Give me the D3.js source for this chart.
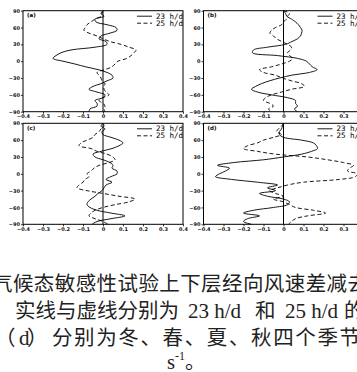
<!DOCTYPE html>
<html>
<head>
<meta charset="utf-8">
<script src="https://cdn.jsdelivr.net/npm/d3@7"></script>
<style>
  body { margin: 0; background: #fff; }
  svg { display: block; }
</style>
</head>
<body>
<div id="chart"></div>
<script>
// latitude levels (deg), shared by all curves
var lats = [90, 85, 80, 75, 70, 65, 60, 55, 50, 45, 40, 35, 30, 25, 20, 15, 10, 5, 0,
  -5, -10, -15, -20, -25, -30, -35, -40, -45, -50, -55, -60, -65, -70, -75, -80, -85, -90];

// (a) winter
var aSolid = [0, -0.01, 0.005, -0.04, -0.035, 0.02, 0.065, 0.07, 0.035, -0.01, -0.02, 0.015, 0.02, -0.04, -0.16, -0.21, -0.235, -0.25, -0.2,
  -0.14, -0.087, -0.025, 0.02, 0.045, 0.05, 0.02, -0.01, -0.05, -0.07, -0.03, 0.01, 0, -0.04, -0.03, -0.03, -0.065, -0.07];
var aDash = [0, -0.005, -0.01, -0.04, -0.06, -0.08, -0.09, -0.095, -0.07, -0.03, 0, 0.035, 0.09, 0.13, 0.165, 0.155, 0.14, 0.12, 0.075,
  0.06, 0.045, 0.01, -0.03, -0.02, -0.01, -0.005, 0.01, 0.005, 0.005, 0.015, 0.03, 0, -0.02, 0, 0.01, 0.005, 0.01];
// (b) spring
var bSolid = [0, 0.01, 0.017, 0.04, 0.06, 0.075, 0.085, 0.093, 0.09, 0.085, 0.07, 0.042, 0.01, -0.08, -0.15, -0.155, -0.03, 0.07, 0.115,
  0.13, 0.144, 0.168, 0.13, 0.04, -0.02, -0.07, -0.11, -0.14, -0.16, -0.13, -0.06, 0.02, 0.06, 0.06, 0.07, 0.055, 0.068];
var bDash = [0, 0.03, 0.02, 0.015, 0, -0.01, -0.04, -0.06, -0.068, -0.05, -0.035, -0.008, 0.02, 0.04, 0.035, 0.02, 0.03, 0.045, 0.03,
  -0.01, -0.06, -0.12, -0.1, -0.04, -0.005, 0.04, 0.09, 0.105, 0.04, -0.01, -0.06, -0.09, -0.1, -0.07, -0.05, -0.075, -0.06];
// (c) summer
var cSolid = [0, -0.01, 0.01, -0.005, 0, 0.04, 0.08, 0.1, 0.08, 0.045, -0.01, -0.05, -0.04, 0, 0.035, 0.05, 0.045, 0.07, 0.07,
  0.04, 0.015, 0.045, 0.015, 0.005, -0.005, -0.025, -0.04, -0.06, -0.075, -0.08, -0.065, -0.03, 0.04, 0.11, 0.04, -0.03, -0.055];
var cDash = [0, 0.005, -0.01, -0.02, -0.04, -0.05, -0.08, -0.11, -0.12, -0.06, -0.03, 0.02, 0.05, 0.06, 0.03, -0.02, -0.045, -0.06, -0.08,
  -0.07, -0.09, -0.1, -0.12, -0.13, -0.08, 0, 0.08, 0.16, 0.13, 0.06, 0, -0.04, -0.06, -0.07, -0.04, 0, 0.025];
// (d) autumn
var dSolid = [0, -0.005, -0.01, -0.02, -0.02, 0, 0.09, 0.15, 0.165, 0.17, 0.14, 0.09, 0, -0.1, -0.25, -0.33, -0.27, -0.29, -0.32,
  -0.34, -0.26, -0.13, -0.03, -0.08, -0.04, -0.12, -0.08, 0, 0.03, 0.02, -0.05, -0.15, -0.2, -0.12, -0.18, -0.2, -0.16];
var dDash = [0, -0.01, -0.025, -0.035, -0.01, -0.05, -0.1, -0.13, -0.18, -0.2, -0.13, -0.04, 0.12, 0.22, 0.3, 0.35, 0.33, 0.32, 0.37,
  0.36, 0.28, 0.1, 0.02, -0.03, -0.07, -0.04, 0, -0.05, 0, 0.03, 0.06, 0.15, 0.21, 0.12, 0.06, 0.04, 0.025];

var panelNames = ["(a)", "(b)", "(c)", "(d)"];
var legendNames = ["23 h/d", "25 h/d"];
var xTicks = [-0.4, -0.3, -0.2, -0.1, 0, 0.1, 0.2, 0.3, 0.4];
var yTicks = [90, 60, 30, 0, -30, -60, -90];

// caption pieces (the source image is cropped on both sides)
var captionLine1 = "气候态敏感性试验上下层经向风速差减去";
var captionLine2 = ["实线与虚线分别为", "23 h/d", "和", "25 h/d", "的"];
var captionLine3 = ["和", "（", "d", "）", "分别为冬、春、夏、秋四个季节"];

var panels = [
  {name: panelNames[0], solid: aSolid, dash: aDash, x: 23, y: 10.7},
  {name: panelNames[1], solid: bSolid, dash: bDash, x: 203.5, y: 10.7},
  {name: panelNames[2], solid: cSolid, dash: cDash, x: 23, y: 123.3},
  {name: panelNames[3], solid: dSolid, dash: dDash, x: 203.5, y: 123.3}
];

var svgWidth = 357, svgHeight = 372;
var panelW = 160, panelH = 101;

var svg = d3.select("#chart").append("svg")
  .attr("width", svgWidth)
  .attr("height", svgHeight);

svg.append("rect").attr("width", svgWidth).attr("height", svgHeight).attr("fill", "#fff");

var xScale = d3.scaleLinear().domain([-0.4, 0.4]).range([0, panelW]);
var yScale = d3.scaleLinear().domain([-90, 90]).range([panelH, 0]);

var fmt = function(v) { return v === 0 ? "0" : d3.format(".1f")(v); };

var line = d3.line()
  .x(function(d) { return xScale(d[1]); })
  .y(function(d) { return yScale(d[0]); })
  .curve(d3.curveCatmullRom.alpha(0.5));

panels.forEach(function(p) {
  var g = svg.append("g").attr("transform", "translate(" + p.x + "," + p.y + ")");

  // axes
  var xAxis = d3.axisBottom(xScale).tickValues(xTicks).tickFormat(fmt).tickSize(2).tickPadding(1);
  var yAxis = d3.axisLeft(yScale).tickValues(yTicks).tickFormat(d3.format("d")).tickSize(2).tickPadding(1);

  var gx = g.append("g").attr("transform", "translate(0," + panelH + ")").call(xAxis);
  var gy = g.append("g").call(yAxis);
  [gx, gy].forEach(function(a) {
    a.select(".domain").remove();
    a.selectAll("line").attr("stroke", "#000").attr("stroke-width", 0.8);
    a.selectAll("text")
      .attr("fill", "#111")
      .style("font-family", "DejaVu Sans, sans-serif")
      .style("font-weight", "bold")
      .style("font-size", "5px");
  });

  // frame
  g.append("rect")
    .attr("width", panelW).attr("height", panelH)
    .attr("fill", "none").attr("stroke", "#000").attr("stroke-width", 1);

  // zero line
  g.append("line")
    .attr("x1", xScale(0)).attr("x2", xScale(0))
    .attr("y1", 0).attr("y2", panelH)
    .attr("stroke", "#000").attr("stroke-width", 1);

  g.append("path")
    .datum(d3.zip(lats, p.solid))
    .attr("d", line)
    .attr("fill", "none").attr("stroke", "#000").attr("stroke-width", 0.9);

  g.append("path")
    .datum(d3.zip(lats, p.dash))
    .attr("d", line)
    .attr("fill", "none").attr("stroke", "#000").attr("stroke-width", 0.9)
    .attr("stroke-dasharray", "4,2.5");

  // panel label
  g.append("text")
    .attr("x", 4).attr("y", 6.5)
    .style("font-family", "DejaVu Sans, sans-serif")
    .style("font-weight", "bold")
    .style("font-size", "5.5px")
    .text(p.name);

  // legend
  var leg = g.append("g").attr("transform", "translate(114,5.5)");
  legendNames.forEach(function(n, i) {
    leg.append("line")
      .attr("x1", 0).attr("x2", 15)
      .attr("y1", i * 7).attr("y2", i * 7)
      .attr("stroke", "#000").attr("stroke-width", 0.9)
      .attr("stroke-dasharray", i === 1 ? "4,2.5" : null);
    leg.append("text")
      .attr("x", 19).attr("y", i * 7 + 2.5)
      .style("font-family", "DejaVu Sans Mono, monospace")
      .style("font-size", "7.5px")
      .text(n);
  });
});

// caption
var cap = svg.append("g")
  .attr("fill", "#222")
  .style("font-family", "Liberation Serif, Noto Sans CJK SC, serif")
  .style("font-size", "20.5px");

cap.append("text").attr("x", -8).attr("y", 291)
  .attr("textLength", 376).attr("lengthAdjust", "spacing")
  .text(captionLine1);

var l2x = [15, 188, 255, 285, 344];
var l2w = [164, null, null, null, null];
captionLine2.forEach(function(s, i) {
  var t = cap.append("text").attr("x", l2x[i]).attr("y", 318).text(s);
  if (l2w[i]) t.attr("textLength", l2w[i]).attr("lengthAdjust", "spacing");
  if (/^[0-9]/.test(s)) t.style("font-size", "21px");
});

var l3x = [-19, -5, 19, 27, 52];
captionLine3.forEach(function(s, i) {
  var t = cap.append("text").attr("x", l3x[i]).attr("y", 345).text(s);
  if (s === "d") t.style("font-size", "21px");
  if (i === 4) t.attr("textLength", 308).attr("lengthAdjust", "spacing");
});

var last = cap.append("text").attr("x", 167).attr("y", 369);
last.append("tspan").text("s");
last.append("tspan").attr("dy", -9).style("font-size", "12px").text("-1");
last.append("tspan").attr("dy", 9).text("。");
</script>
</body>
</html>
